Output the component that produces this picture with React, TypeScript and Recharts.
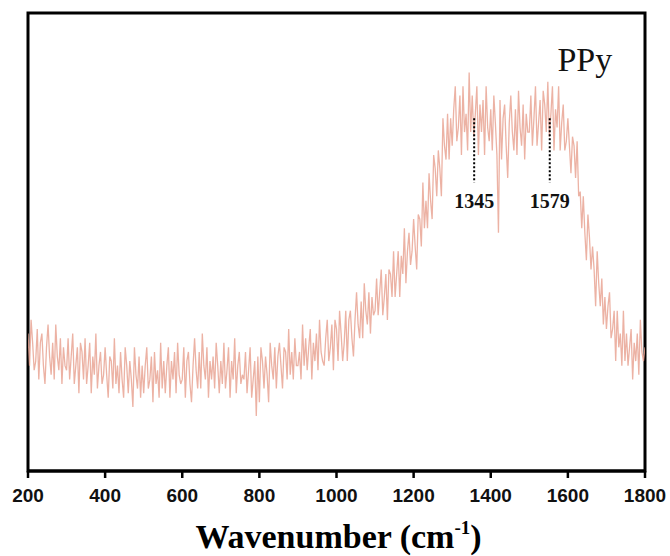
import { LineChart, Line, XAxis, YAxis, ReferenceArea, ReferenceLine, ReferenceDot } from 'recharts';

// Raman spectrum of PPy, one reading every 4 cm-1, in blocks of 100 cm-1
const STEP = 4;
const I_200 = [30, 23, 33, 28, 22, 24, 31, 20, 28, 30, 23, 19, 27, 32, 25, 21, 28, 20, 32, 25, 22, 29, 19, 27, 23];
const I_300 = [22, 29, 20, 25, 30, 19, 23, 27, 17, 28, 26, 20, 29, 19, 23, 28, 17, 25, 21, 30, 18, 23, 26, 19, 21];
const I_400 = [27, 21, 16, 25, 24, 18, 29, 19, 23, 17, 26, 20, 16, 27, 23, 17, 24, 20, 14, 27, 21, 18, 25, 16, 23];
const I_500 = [17, 23, 27, 18, 20, 25, 15, 26, 19, 22, 16, 28, 18, 24, 17, 23, 27, 16, 24, 20, 26, 17, 28, 21, 19];
const I_600 = [20, 27, 16, 24, 26, 19, 15, 23, 29, 22, 18, 26, 18, 30, 23, 20, 27, 16, 24, 20, 25, 18, 28, 23, 17];
const I_700 = [24, 19, 28, 18, 22, 27, 16, 24, 20, 29, 17, 23, 26, 19, 21, 20, 26, 17, 22, 27, 16, 20, 24, 12, 25];
const I_800 = [15, 27, 24, 18, 25, 21, 15, 28, 23, 20, 27, 18, 25, 28, 23, 18, 27, 26, 20, 31, 21, 26, 20, 29, 23];
const I_900 = [23, 26, 20, 32, 23, 29, 22, 27, 31, 20, 28, 24, 30, 22, 33, 26, 24, 23, 29, 33, 24, 27, 32, 22, 33];
const I_1000 = [31, 24, 35, 30, 24, 28, 35, 24, 33, 35, 29, 25, 33, 39, 32, 29, 37, 29, 41, 35, 32, 39, 30, 38, 34];
const I_1100 = [35, 42, 34, 39, 44, 34, 38, 43, 33, 44, 43, 38, 48, 38, 43, 48, 38, 47, 43, 53, 41, 48, 52, 45, 48];
const I_1200 = [55, 49, 44, 56, 55, 49, 63, 53, 59, 53, 65, 59, 55, 69, 66, 60, 70, 66, 60, 77, 71, 68, 78, 68, 77];
const I_1300 = [71, 79, 84, 72, 75, 82, 69, 84, 74, 78, 70, 87, 74, 82, 73, 78, 84, 69, 80, 74, 81, 69, 84, 75, 72];
const I_1400 = [79, 70, 82, 76, 69, 52, 81, 68, 77, 80, 71, 64, 76, 82, 74, 70, 79, 69, 83, 75, 71, 80, 68, 78, 74];
const I_1500 = [74, 82, 71, 77, 84, 71, 76, 81, 70, 83, 80, 74, 85, 73, 78, 84, 70, 79, 75, 84, 70, 76, 80, 70, 72];
const I_1600 = [77, 71, 65, 73, 71, 64, 72, 60, 61, 53, 60, 52, 46, 56, 51, 44, 49, 44, 36, 48, 41, 36, 42, 32, 38];
const I_1700 = [31, 36, 39, 29, 31, 35, 24, 35, 27, 30, 23, 35, 24, 30, 23, 27, 31, 20, 28, 24, 30, 21, 33, 26, 24];
const I_1800 = [27];

const BLOCKS: [number, number[]][] = [
  [200, I_200], [300, I_300], [400, I_400], [500, I_500], [600, I_600],
  [700, I_700], [800, I_800], [900, I_900], [1000, I_1000], [1100, I_1100],
  [1200, I_1200], [1300, I_1300], [1400, I_1400], [1500, I_1500], [1600, I_1600],
  [1700, I_1700], [1800, I_1800],
];

const X_TICKS = [200, 400, 600, 800, 1000, 1200, 1400, 1600, 1800];

// marked bands: where the dotted lines sit, and their labels
const PEAK_X = [1357, 1553];
const PEAK_LABELS = ['1345', '1579'];

const data = BLOCKS.flatMap(([start, vals]) =>
  vals.map((v, i) => ({ wn: start + i * STEP, intensity: v }))
);

const AxisTitle = (props: any) => {
  const { x, y, width, height } = props.viewBox;
  return (
    <text
      x={x + width / 2 + 2}
      y={y + height - 8}
      textAnchor="middle"
      fontFamily="'Liberation Serif', 'Times New Roman', serif"
      fontWeight="bold"
      fontSize={34}
      fill="#000"
    >
      Wavenumber (cm
      <tspan dy={-14} fontSize={19}>-1</tspan>
      <tspan dy={14}>)</tspan>
    </text>
  );
};

const textAt = (label: string, size: number, bold: boolean) => (props: any) => (
  <text
    x={props.cx}
    y={props.cy}
    textAnchor="middle"
    fontFamily="'Liberation Serif', 'Times New Roman', serif"
    fontWeight={bold ? 'bold' : 'normal'}
    fontSize={size}
    fill="#111"
  >
    {label}
  </text>
);

export default function App() {
  return (
    <div style={{ position: 'absolute', left: 0, top: 0, background: '#fff' }}>
      <LineChart
        width={670}
        height={556}
        data={data}
        margin={{ top: 13, right: 25, left: 28, bottom: 0 }}
      >
        <XAxis
          dataKey="wn"
          type="number"
          domain={[200, 1800]}
          ticks={X_TICKS}
          allowDataOverflow
          height={85}
          stroke="#000"
          axisLine={{ stroke: '#000', strokeWidth: 3 }}
          tickLine={{ stroke: '#000', strokeWidth: 2.5 }}
          tickSize={7}
          tickMargin={11}
          tick={{
            fill: '#111',
            fontSize: 19,
            fontWeight: 'bold',
            fontFamily: "'Liberation Sans', Arial, sans-serif",
          }}
          label={<AxisTitle />}
        />
        <YAxis hide domain={[0, 100]} allowDataOverflow />
        <Line
          type="linear"
          dataKey="intensity"
          stroke="#E9A594"
          strokeOpacity={0.85}
          strokeWidth={1.3}
          dot={false}
          isAnimationActive={false}
        />
        <ReferenceArea
          x1={200}
          x2={1800}
          y1={0}
          y2={100}
          fill="none"
          stroke="#000"
          strokeWidth={3}
        />
        {PEAK_X.map((px) => (
          <ReferenceLine
            key={px}
            segment={[{ x: px, y: 77 }, { x: px, y: 63 }]}
            stroke="#000"
            strokeWidth={2}
            strokeDasharray="2 2"
          />
        ))}
        {PEAK_X.map((px, i) => (
          <ReferenceDot
            key={'l' + px}
            x={px}
            y={57.4}
            r={0}
            shape={textAt(PEAK_LABELS[i], 20, true)}
          />
        ))}
        <ReferenceDot x={1644} y={87.3} r={0} shape={textAt('PPy', 34, false)} />
      </LineChart>
    </div>
  );
}
